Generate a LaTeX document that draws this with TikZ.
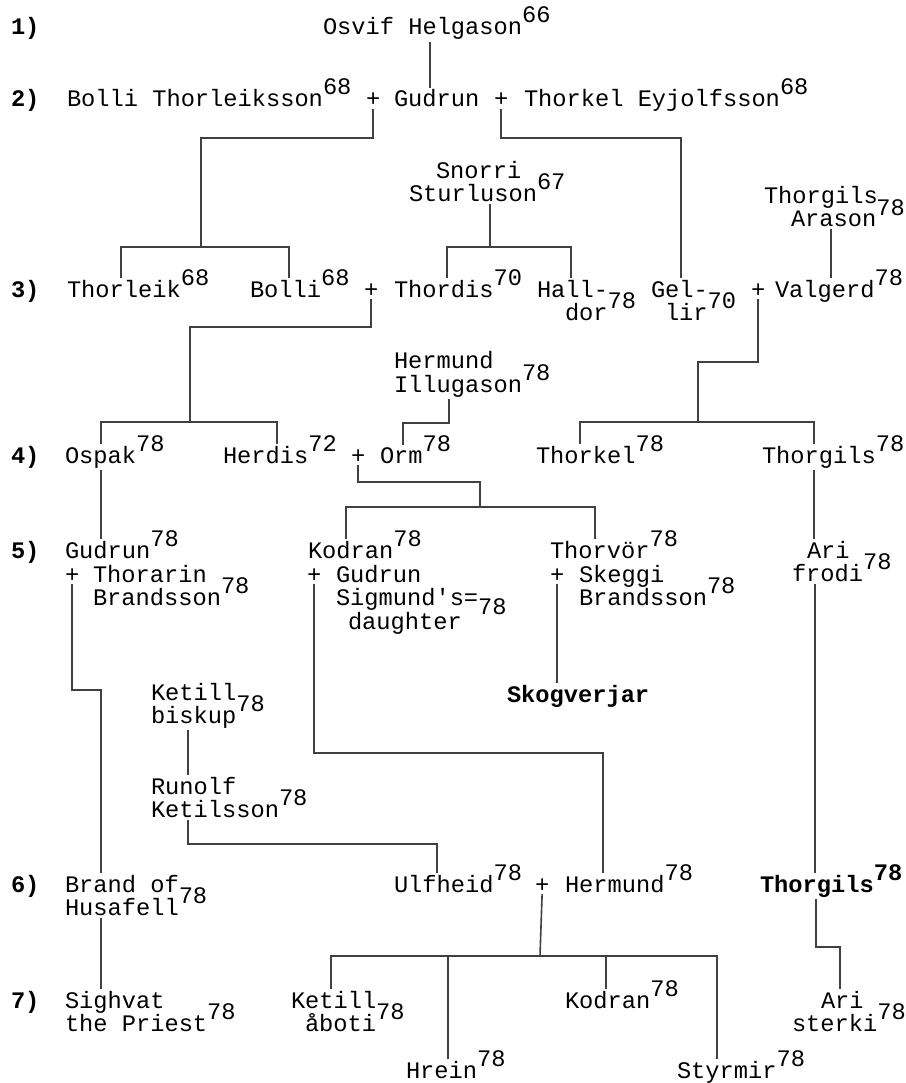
\documentclass[tikz,border=0pt]{standalone}
\usepackage{fontspec}
\setmonofont{Liberation Mono}
\newcommand\rif[2][12pt]{\smash{\raisebox{#1}{#2}}}
\tikzset{
  albero/.style={x=1pt,y=-1pt},
  nome/.style={anchor=base west,inner sep=0pt,outer sep=2pt,align=left,
    font=\ttfamily\fontsize{23.7pt}{23.5pt}\selectfont},
  nomeB/.style={nome,font=\ttfamily\bfseries\fontsize{23.7pt}{23.5pt}\selectfont},
  riga/.style={nomeB},
  legame/.style={draw,line width=1.6pt,black!75}
}
\begin{document}
\begin{tikzpicture}[albero]
\useasboundingbox (0,0) rectangle (905,1083);
% generazioni
\node[riga] (r1) at (9,35) {1)};
\node[riga] (r2) at (9,107) {2)};
\node[riga] (r3) at (9,297) {3)};
\node[riga] (r4) at (9,463) {4)};
\node[riga] (r5) at (9,558) {5)};
\node[riga] (r6) at (9,892) {6)};
\node[riga] (r7) at (9,1008) {7)};
% 1-2
\node[nome] (osvif) at (321,35) {Osvif Helgason\rif{66}};
\node[nome] (bolliT) at (65,107) {Bolli Thorleiksson\rif{68}};
\node[nome] (p2a) at (364,107) {+};
\node[nome] (gudrun) at (392,107) {Gudrun};
\node[nome] (p2b) at (492,107) {+};
\node[nome] (thorkelE) at (522,107) {Thorkel Eyjolfsson\rif{68}};
% 3 (nodi su piu righe: base = ultima riga)
\node[nome] (snorri) at (407,202) {\hspace*{27pt}Snorri\\Sturluson\rif{67}};
\node[nome] (thorgilsA) at (762,227) {Thorgils\\\hspace*{27pt}Arason\rif{78}};
\node[nome] (thorleik) at (65,297) {Thorleik\rif{68}};
\node[nome] (bolli) at (248,297) {Bolli\rif{68}};
\node[nome] (p3a) at (362,297) {+};
\node[nome] (thordis) at (392,297) {Thordis\rif{70}};
\node[nome] (halldor) at (535,320.5) {Hall-\\\hspace*{28pt}dor\rif{78}};
\node[nome] (gellir) at (649,320.5) {Gel-\\\hspace*{14pt}lir\rif{70}};
\node[nome] (p3b) at (749,297) {+};
\node[nome] (valgerd) at (773,297) {Valgerd\rif{78}};
% 4
\node[nome] (hermundI) at (392,392) {Hermund\\Illugason\rif{78}};
\node[nome] (ospak) at (63,463) {Ospak\rif{78}};
\node[nome] (herdis) at (221,463) {Herdis\rif{72}};
\node[nome] (p4) at (349,463) {+};
\node[nome] (orm) at (378,463) {Orm\rif{78}};
\node[nome] (thorkel) at (534,463) {Thorkel\rif{78}};
\node[nome] (thorgils) at (760,463) {Thorgils\rif{78}};
% 5
\node[nome] (gudrunO) at (63,558) {Gudrun\rif{78}};
\node[nome] (p5a) at (63,582) {+};
\node[nome] (thorarin) at (91,605.5) {Thorarin\\Brandsson\rif{78}};
\node[nome] (kodran) at (306,558) {Kodran\rif{78}};
\node[nome] (p5b) at (305,582) {+};
\node[nome] (gudrunS) at (334,629) {Gudrun\\Sigmund's=\rif[-9pt]{78}\\\hspace*{12pt}daughter};
\node[nome] (thorvor) at (548,558) {Thorvör\rif{78}};
\node[nome] (p5c) at (548,582) {+};
\node[nome] (skeggi) at (577,605.5) {Skeggi\\Brandsson\rif{78}};
\node[nome] (ari) at (790,581.5) {\hspace*{15pt}Ari\\frodi\rif{78}};
\node[nomeB] (skogverjar) at (505,702) {Skogverjar};
\node[nome] (ketillB) at (149,723.5) {Ketill\\biskup\rif{78}};
\node[nome] (runolf) at (149,817.5) {Runolf\\Ketilsson\rif{78}};
% 6
\node[nome] (brand) at (63,915.5) {Brand of\\Husafell\rif{78}};
\node[nome] (ulfheid) at (392,892) {Ulfheid\rif{78}};
\node[nome] (p6) at (533,892) {+};
\node[nome] (hermund) at (563,892) {Hermund\rif{78}};
\node[nomeB] (thorgilsS) at (758,892) {Thorgils\rif{78}};
% 7
\node[nome] (sighvat) at (63,1031.5) {Sighvat\\the Priest\rif{78}};
\node[nome] (ketillA) at (289,1031.5) {Ketill\\\hspace*{14pt}åboti\rif{78}};
\node[nome] (kodranH) at (563,1008) {Kodran\rif{78}};
\node[nome] (ariS) at (790,1031.5) {\hspace*{29pt}Ari\\sterki\rif{78}};
\node[nome] (hrein) at (404,1078) {Hrein\rif{78}};
\node[nome] (styrmir) at (675,1078) {Styrmir\rif{78}};
% legami
\draw[legame] (430,0 |- osvif.south) -- (430,0 |- gudrun.north);
\draw[legame] (p2a.south) |- (201,138) -- (201,247);
\draw[legame] (121,0 |- thorleik.north) |- (289,247) -- (289,0 |- bolli.north);
\draw[legame] (p2b.south) |- (681,138) -- (681,0 |- gellir.north);
\draw[legame] (490,0 |- snorri.south) -- (490,247);
\draw[legame] (447,0 |- thordis.north) |- (571,247) -- (571,0 |- halldor.north);
\draw[legame] (831,0 |- thorgilsA.south) -- (831,0 |- valgerd.north);
\draw[legame] (p3a.south) |- (190,327) -- (190,422);
\draw[legame] (101,0 |- ospak.north) |- (277,422) -- (277,0 |- herdis.north);
\draw[legame] (p3b.south) |- (698,362) -- (698,422);
\draw[legame] (580,0 |- thorkel.north) |- (814,422) -- (814,0 |- thorgils.north);
\draw[legame] (449,0 |- hermundI.south) |- (403,423) -- (403,0 |- orm.north);
\draw[legame] (101,0 |- ospak.south) -- (101,0 |- gudrunO.north);
\draw[legame] (p4.south) |- (480,482) -- (480,507);
\draw[legame] (346,0 |- kodran.north) |- (595,507) -- (595,0 |- thorvor.north);
\draw[legame] (814,0 |- thorgils.south) -- (814,0 |- ari.north);
\draw[legame] (p5a.south) |- (101,690) -- (101,0 |- brand.north);
\draw[legame] (p5b.south) |- (603,753) -- (603,0 |- hermund.north);
\draw[legame] (p5c.south) -- (p5c.south |- skogverjar.north);
\draw[legame] (815,0 |- ari.south) -- (815,0 |- thorgilsS.north);
\draw[legame] (188,0 |- ketillB.south) -- (188,0 |- runolf.north);
\draw[legame] (188,0 |- runolf.south) |- (437,844) -- (437,0 |- ulfheid.north);
\draw[legame] (101,0 |- brand.south) -- (101,0 |- sighvat.north);
\draw[legame] (p6.south) -- (540,956);
\draw[legame] (331,0 |- ketillA.north) |- (717,956) -- (717,0 |- styrmir.north);
\draw[legame] (448,956) -- (448,0 |- hrein.north);
\draw[legame] (606,956) -- (606,0 |- kodranH.north);
\draw[legame] (816,0 |- thorgilsS.south) |- (840,947) -- (840,0 |- ariS.north);
\end{tikzpicture}
\end{document}
